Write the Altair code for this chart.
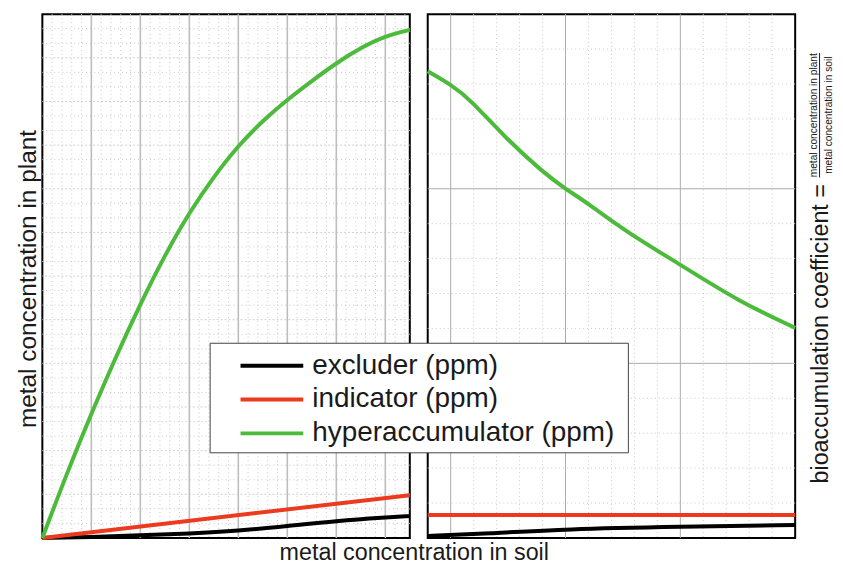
import altair as alt
import numpy as np
import pandas as pd

FONT = "Liberation Sans"

series = ["excluder (ppm)", "indicator (ppm)", "hyperaccumulator (ppm)"]
colors = ["#000000", "#ec3a1f", "#4cba3b"]

# ---- left panel: metal concentration in plant vs. in soil ----
left_exc_x = [0, 1, 2, 3, 4, 5, 6, 7, 7.5]
left_exc_y = [0, 0.02, 0.06, 0.10, 0.16, 0.27, 0.39, 0.47, 0.50]
left_ind_x = [0, 7.5]
left_ind_y = [0, 0.98]
left_hyp_x = [0, 0.5, 1, 1.5, 2, 2.5, 3, 3.5, 4, 4.5, 5, 5.5, 6, 6.5, 7, 7.5]
left_hyp_y = [0, 1.48, 2.85, 4.15, 5.36, 6.48, 7.46, 8.28, 8.99, 9.56, 10.04,
              10.47, 10.88, 11.23, 11.50, 11.64]

# ---- right panel: bioaccumulation coefficient ----
right_exc_x = [0.8, 1.32, 2.0, 3.0, 4.0]
right_exc_y = [0.011, 0.025, 0.051, 0.064, 0.074]
right_ind_x = [0.8, 4.0]
right_ind_y = [0.131, 0.131]
right_hyp_x = [0.8, 1.003, 1.171, 1.457, 1.805, 2.002, 2.184, 2.534, 2.994, 3.515, 4.0]
right_hyp_y = [2.673, 2.597, 2.511, 2.304, 2.093, 1.998, 1.922, 1.751, 1.568, 1.352, 1.203]

# grid tick positions
left_domain_x = [0, 7.5]
left_domain_y = [0, 12]
left_major_x = [1, 2, 3, 4, 5, 6, 7]
left_major_y = [1, 2, 3, 4, 5, 6, 7, 8, 9, 10, 11]
left_minor_x = [round(k * 0.2, 3) for k in range(1, 38) if k % 5]
left_minor_y = [round(k / 3, 4) for k in range(1, 36) if k % 3]

right_domain_x = [0.8, 4.0]
right_domain_y = [0, 3]
right_major_x = [1, 2, 3]
right_major_y = [1, 2]
right_minor_x = [round(0.8 + k * 0.2, 3) for k in range(1, 16) if (4 + k) % 5]
right_minor_y = [round(k * 0.2, 3) for k in range(1, 15) if k % 5]

x_title = "metal concentration in soil"
y_left_title = "metal concentration in plant"
y_right_title = "bioaccumulation coefficient ="
frac_top = "metal concentration in plant"
frac_bottom = "metal concentration in soil"


def long(parts):
    rows = []
    for name, xs, ys in parts:
        for a, b in zip(xs, ys):
            rows.append({"series": name, "x": a, "y": b})
    return pd.DataFrame(rows)


df_left = long([(series[0], left_exc_x, left_exc_y),
                (series[1], left_ind_x, left_ind_y),
                (series[2], left_hyp_x, left_hyp_y)])
df_right = long([(series[0], right_exc_x, right_exc_y),
                 (series[1], right_ind_x, right_ind_y),
                 (series[2], right_hyp_x, right_hyp_y)])

legend = alt.Legend(
    orient="none", legendX=168, legendY=330,
    title=" ", titleFontSize=1, titlePadding=3,
    symbolType="M-1,0H6", symbolSize=324, symbolStrokeWidth=4, symbolOffset=21,
    padding=5, labelFontSize=28, labelFont=FONT, labelColor="#1a1a1a",
    labelOffset=49, labelLimit=500, rowPadding=6,
    labelExpr="datum.label + '\u00a0\u200b'",
    strokeColor="#444444", fillColor="white", cornerRadius=0,
)
color = alt.Color("series:N", scale=alt.Scale(domain=series, range=colors),
                  sort=series, legend=legend)

title_style = dict(titleFont=FONT, titleFontWeight="normal", titleColor="#1a1a1a")
left_x_axis = alt.Axis(title=x_title, labels=False, ticks=False, domain=False, grid=False,
                       titleX=373, titleY=22, titleAlign="center", titleFontSize=23.4,
                       titleBaseline="alphabetic", **title_style)
left_y_axis = alt.Axis(title=y_left_title, labels=False, ticks=False, domain=False, grid=False,
                       titleAngle=270, titleX=-7, titleY=265.5, titleAlign="center",
                       titleFontSize=24.5, titleBaseline="alphabetic", **title_style)
right_y_axis = alt.Axis(title=y_right_title, orient="right", labels=False, ticks=False,
                        domain=False, grid=False, titleAngle=270, titleX=32.5, titleY=320.5,
                        titleAlign="center", titleFontSize=23.4, titleBaseline="alphabetic",
                        **title_style)


def xs(field, domain, axis):
    return alt.X(field, type="quantitative",
                 scale=alt.Scale(domain=domain, nice=False, zero=False), axis=axis)


def ys(field, domain, axis):
    return alt.Y(field, type="quantitative",
                 scale=alt.Scale(domain=domain, nice=False, zero=False), axis=axis)


def vrules(vals, domain, axis, **style):
    return alt.Chart(pd.DataFrame({"v": vals})).mark_rule(**style).encode(
        x=xs("v", domain, axis))


def hrules(vals, domain, axis, **style):
    return alt.Chart(pd.DataFrame({"v": vals})).mark_rule(**style).encode(
        y=ys("v", domain, axis))


minor_style = dict(color="#c9c9c9", strokeWidth=1, strokeDash=[1, 3])

left = alt.layer(
    vrules(left_minor_x, left_domain_x, left_x_axis, **minor_style),
    hrules(left_minor_y, left_domain_y, left_y_axis, **minor_style),
    hrules(left_major_y, left_domain_y, left_y_axis, color="#cfcfcf", strokeWidth=1,
           strokeDash=[2, 2]),
    vrules(left_major_x, left_domain_x, left_x_axis, color="#bdbdbd", strokeWidth=1.6),
    alt.Chart(df_left).mark_line(strokeWidth=4, interpolate="basis").encode(
        x=xs("x", left_domain_x, left_x_axis),
        y=ys("y", left_domain_y, left_y_axis),
        color=color,
    ),
).properties(width=369, height=526)

right = alt.layer(
    vrules(right_minor_x, right_domain_x, None, **minor_style),
    hrules(right_minor_y, right_domain_y, right_y_axis, **minor_style),
    vrules(right_major_x, right_domain_x, None, color="#aaaaaa", strokeWidth=1),
    hrules(right_major_y, right_domain_y, right_y_axis, color="#aaaaaa", strokeWidth=1),
    alt.Chart(df_right).mark_line(strokeWidth=4, interpolate="basis").encode(
        x=xs("x", right_domain_x, None),
        y=ys("y", right_domain_y, right_y_axis),
        color=color,
    ),
    alt.Chart(pd.DataFrame({"t": [frac_top]})).mark_text(
        angle=270, align="center", baseline="alphabetic", font=FONT, fontSize=10.2,
        color="#1a1a1a").encode(x=alt.value(391.2), y=alt.value(101.5), text="t:N"),
    alt.Chart(pd.DataFrame({"t": [frac_bottom]})).mark_text(
        angle=270, align="center", baseline="alphabetic", font=FONT, fontSize=10.2,
        color="#1a1a1a").encode(x=alt.value(405.7), y=alt.value(101.5), text="t:N"),
    alt.Chart(pd.DataFrame({"t": [frac_top]})).mark_rule(color="#1a1a1a", strokeWidth=1).encode(
        x=alt.value(393.5), y=alt.value(39), y2=alt.value(164)),
).properties(width=369, height=526)

chart = alt.hconcat(left, right, spacing=18, bounds="flush").properties(
    padding={"left": 5.5, "top": 3, "right": 0, "bottom": 0},
    background="white",
).configure_view(stroke="black", strokeWidth=2)

chart.save("out.html", embed_options={"renderer": "svg", "actions": False})
